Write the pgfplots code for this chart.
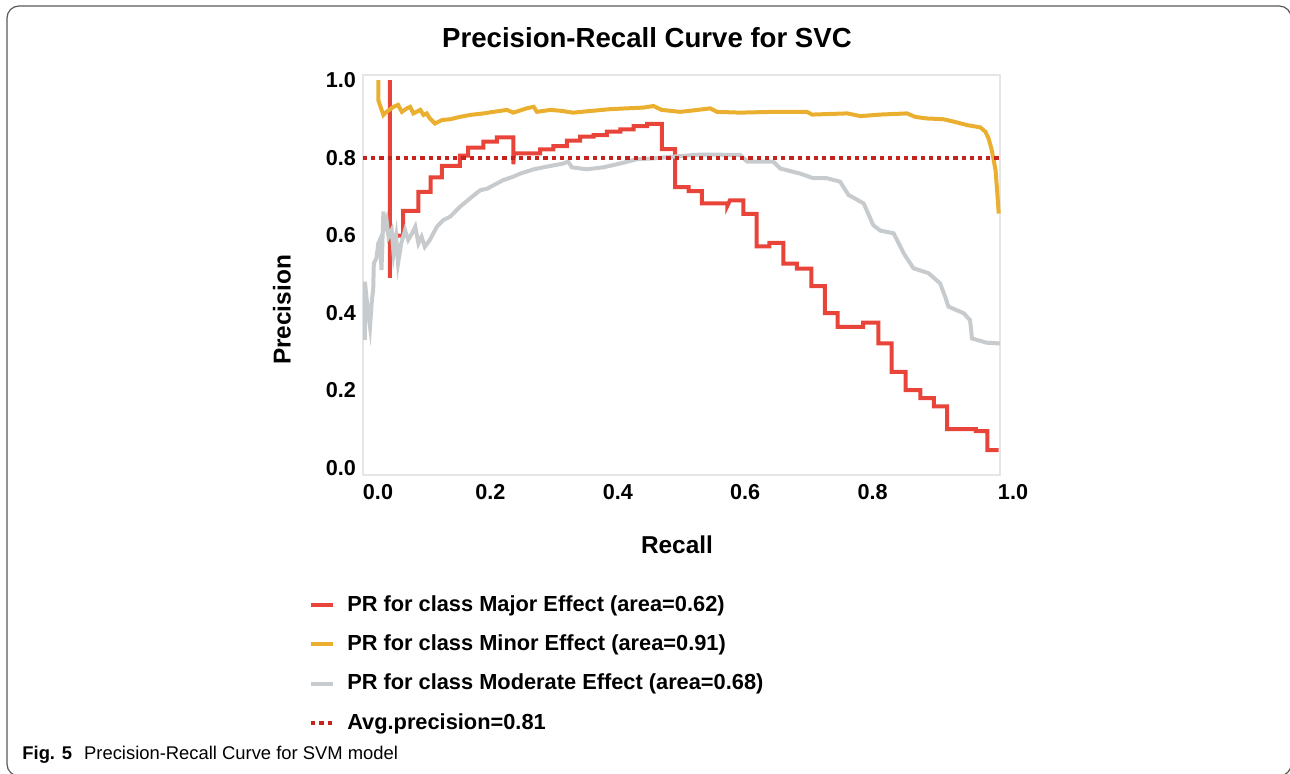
\documentclass[border=0pt]{standalone}
\usepackage{fontspec}
\setmainfont{Liberation Sans}
\usepackage{pgfplots}
\pgfplotsset{compat=1.18}
\definecolor{cMajor}{RGB}{232,68,58}
\definecolor{cMinor}{RGB}{235,175,47}
\definecolor{cMod}{RGB}{199,203,205}
\definecolor{cAvg}{RGB}{196,35,30}
\definecolor{cFrame}{RGB}{230,230,230}
\begin{document}
\begin{tikzpicture}
\path[use as bounding box] (0pt,0pt) rectangle (645pt,-387pt);
\draw[line width=0.6pt, color=black!65, rounded corners=6pt] (3.5pt,-3pt) rectangle (645.6pt,-388pt);
\node[font=\bfseries\fontsize{13.8}{16}\selectfont] at (323.5pt,-19pt) {Precision-Recall Curve for SVC};
\begin{axis}[
  at={(181.5pt,-237.5pt)}, anchor=south west,
  scale only axis, width=318.5pt, height=200pt,
  xmin=0, xmax=1, ymin=-0.018, ymax=1.013,
  clip=false,
  axis line style={cFrame, line width=1pt},
  major tick length=0pt,
  xtick={0,0.2,0.4,0.6,0.8,1.0},
  xticklabels={{\hspace*{15pt}0.0},0.2,0.4,0.6,0.8,{\hspace*{13pt}1.0}},
  ytick={0,0.2,0.4,0.6,0.8,1.0},
  yticklabels={0.0,0.2,0.4,0.6,0.8,1.0},
  tick label style={font=\bfseries\fontsize{10.8}{12}\selectfont},
  xticklabel style={yshift=-1pt},
  legend style={at={(axis description cs:-0.085,-0.291)}, anchor=north west, draw=none, fill=none,
    font=\bfseries\fontsize{10.9}{13}\selectfont, row sep=6.2pt, inner sep=0pt},
  legend cell align=left,
  legend image code/.code={\draw[#1] (0pt,0pt) -- (11pt,0pt); \path (15pt,0pt);},
]
\addplot[cMajor, line width=2pt, line join=miter] coordinates {
(0.042,1.0)(0.042,0.49)(0.042,0.599)(0.063,0.599)(0.063,0.663)(0.087,0.663)(0.087,0.712)(0.106,0.712)
(0.106,0.749)(0.124,0.749)(0.124,0.779)(0.152,0.779)(0.152,0.805)(0.165,0.805)(0.165,0.826)(0.189,0.826)
(0.189,0.841)(0.210,0.841)(0.210,0.852)(0.236,0.852)(0.236,0.783)(0.237,0.811)(0.278,0.811)(0.278,0.821)
(0.299,0.821)(0.299,0.830)(0.320,0.830)(0.320,0.844)(0.341,0.844)(0.341,0.854)(0.362,0.854)(0.362,0.858)
(0.383,0.858)(0.383,0.867)(0.404,0.867)(0.404,0.873)(0.425,0.873)(0.425,0.881)(0.446,0.881)(0.446,0.887)
(0.469,0.887)(0.469,0.822)(0.490,0.822)(0.490,0.724)(0.511,0.724)(0.511,0.714)(0.532,0.714)(0.532,0.682)
(0.572,0.682)(0.572,0.676)(0.576,0.690)(0.597,0.690)(0.597,0.655)(0.618,0.655)(0.618,0.571)(0.638,0.571)
(0.638,0.580)(0.660,0.580)(0.660,0.527)(0.681,0.527)(0.681,0.514)(0.704,0.514)(0.704,0.469)(0.725,0.469)
(0.725,0.399)(0.745,0.399)(0.745,0.364)(0.785,0.364)(0.785,0.375)(0.809,0.375)(0.809,0.321)(0.830,0.321)
(0.830,0.248)(0.852,0.248)(0.852,0.201)(0.875,0.201)(0.875,0.180)(0.896,0.180)(0.896,0.159)(0.917,0.159)
(0.917,0.100)(0.962,0.100)(0.962,0.095)(0.980,0.095)(0.980,0.046)(0.998,0.046)
};
\addlegendentry{PR for class Major Effect (area=0.62)}
\addplot[cMinor, line width=2pt] coordinates {
(0.024,1.0)(0.024,0.948)(0.032,0.910)(0.037,0.918)(0.048,0.931)(0.055,0.936)(0.061,0.918)(0.069,0.927)
(0.074,0.931)(0.079,0.914)(0.090,0.923)(0.095,0.910)(0.100,0.914)(0.105,0.901)(0.113,0.888)(0.124,0.897)
(0.137,0.899)(0.152,0.905)(0.168,0.910)(0.189,0.914)(0.205,0.918)(0.226,0.923)(0.236,0.916)(0.257,0.927)
(0.268,0.931)(0.273,0.918)(0.294,0.923)(0.309,0.921)(0.330,0.916)(0.362,0.921)(0.388,0.925)(0.414,0.927)
(0.440,0.929)(0.456,0.933)(0.469,0.923)(0.498,0.918)(0.520,0.922)(0.545,0.927)(0.556,0.918)(0.592,0.916)
(0.644,0.918)(0.697,0.918)(0.705,0.911)(0.760,0.914)(0.781,0.907)(0.812,0.911)(0.854,0.914)(0.867,0.905)
(0.885,0.901)(0.911,0.899)(0.927,0.893)(0.948,0.884)(0.969,0.878)(0.977,0.867)(0.982,0.850)(0.987,0.820)
(0.993,0.768)(0.995,0.725)(0.998,0.656)
};
\addlegendentry{PR for class Minor Effect (area=0.91)}
\addplot[cMod, line width=2pt] coordinates {
(0.003,0.330)(0.003,0.480)(0.008,0.400)(0.011,0.364)(0.014,0.433)(0.016,0.460)(0.017,0.528)(0.021,0.540)
(0.024,0.579)(0.027,0.590)(0.029,0.510)(0.032,0.661)(0.034,0.622)(0.037,0.639)(0.040,0.596)(0.045,0.613)
(0.048,0.553)(0.052,0.596)(0.055,0.528)(0.060,0.579)(0.066,0.613)(0.071,0.588)(0.077,0.605)(0.082,0.622)
(0.087,0.579)(0.092,0.596)(0.097,0.570)(0.105,0.588)(0.116,0.622)(0.126,0.639)(0.137,0.648)(0.152,0.673)
(0.168,0.695)(0.184,0.716)(0.195,0.720)(0.205,0.729)(0.220,0.742)(0.236,0.751)(0.247,0.759)(0.268,0.770)
(0.289,0.777)(0.315,0.785)(0.322,0.790)(0.328,0.775)(0.351,0.770)(0.377,0.775)(0.404,0.785)(0.430,0.796)
(0.456,0.798)(0.482,0.802)(0.529,0.808)(0.592,0.807)(0.603,0.790)(0.644,0.790)(0.655,0.772)(0.686,0.759)
(0.707,0.747)(0.728,0.747)(0.749,0.738)(0.762,0.704)(0.786,0.682)(0.801,0.626)(0.812,0.612)(0.833,0.605)
(0.849,0.553)(0.864,0.515)(0.888,0.502)(0.906,0.476)(0.914,0.441)(0.919,0.416)(0.943,0.399)(0.953,0.381)
(0.956,0.334)(0.979,0.323)(1.0,0.321)
};
\addlegendentry{PR for class Moderate Effect (area=0.68)}
\addplot[cAvg, line width=2pt, dash pattern=on 2.1pt off 2pt] coordinates {(0,0.8)(1,0.8)};
\addlegendentry{Avg.precision=0.81}
\end{axis}
\node[font=\bfseries\fontsize{12.2}{14}\selectfont, rotate=90] at (141pt,-155pt) {Precision};
\node[font=\bfseries\fontsize{12.2}{14}\selectfont] at (338.5pt,-272.5pt) {Recall};
\node[anchor=west, inner sep=0pt, font=\fontsize{9.2}{11}\selectfont] at (11pt,-377.5pt) {\textbf{Fig. 5}\hspace{6pt}Precision-Recall Curve for SVM model};
\end{tikzpicture}
\end{document}
